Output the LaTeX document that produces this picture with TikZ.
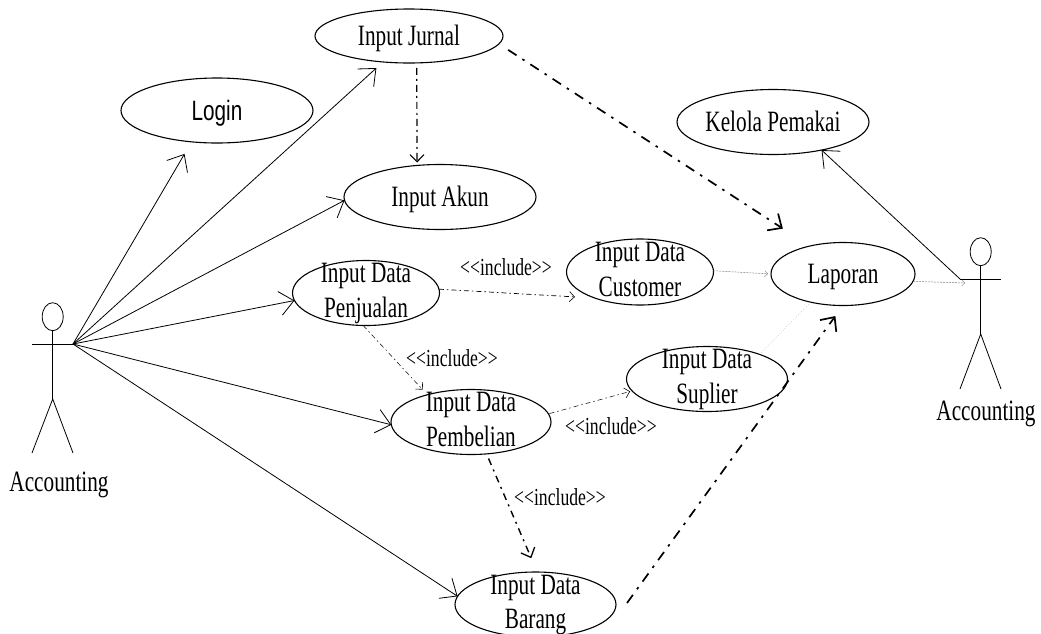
\documentclass[tikz,border=0pt]{standalone}
\usepackage{fontspec}
\setmainfont[FakeStretch=0.72,Ligatures=NoCommon]{Liberation Serif}
\newfontfamily\loginfont[FakeStretch=0.74]{Liberation Sans}
\usetikzlibrary{arrows.meta,calc,shapes.geometric}
\newcommand\twolines[2]{\raisebox{-13pt}{\smash{\begin{tabular}[c]{@{}c@{}}#1\\#2\end{tabular}}}}
\newcommand\oneline[1]{\raisebox{-9pt}[0pt][0pt]{#1}}
\newcommand\incl{{<}{<}include{>}{>}}
\tikzset{
  usecase/.style={draw,ellipse,line width=1.1pt,inner sep=0pt,outer sep=0pt,minimum width=#1,
    font=\fontsize{29.5}{34.5}\selectfont},
  labeltext/.style={inner sep=0pt,font=\fontsize{24.5}{28}\selectfont},
  actortext/.style={inner sep=0pt,font=\fontsize{29.5}{34}\selectfont},
  head/.style={draw,ellipse,line width=.8pt,inner sep=0pt,outer sep=0pt,minimum width=21pt,minimum height=28pt},
  limb/.style={line width=.8pt},
  assoc/.style={line width=.8pt,-{Straight Barb[length=14pt,width=24pt,line width=.8pt]}},
  incthick/.style={line width=1.7pt,dash pattern=on 10pt off 7pt on 2.5pt off 7pt,
    -{Straight Barb[length=11pt,width=20pt,line width=1.7pt]}},
  incmed/.style={line width=1.4pt,dash pattern=on 7pt off 5pt on 2pt off 5pt,
    -{Straight Barb[length=8pt,width=15pt,line width=1.3pt]}},
  incmid/.style={line width=1.2pt,dash pattern=on 7pt off 4pt on 2pt off 4pt,
    -{Straight Barb[length=7pt,width=14pt,line width=1.1pt]}},
  incthin/.style={line width=.7pt,dash pattern=on 5pt off 3pt on 1.5pt off 3pt,
    -{Straight Barb[length=5pt,width=10pt,line width=.6pt]}},
  incgrey/.style={line width=.5pt,gray,dash pattern=on 2pt off 1pt,
    -{Straight Barb[length=3pt,width=6pt,line width=.4pt]}},
}
\begin{document}
\begin{tikzpicture}[x=1pt,y=-1pt]
\useasboundingbox (0,0) rectangle (1041,633);
\clip (0,0) rectangle (1041,633);
% use cases
\node[usecase=188pt,minimum height=54pt] (jurnal) at (409,36) {\oneline{Input Jurnal}};
\node[usecase=192pt,minimum height=65pt] (login) at (217,110.5) {\raisebox{-10pt}[0pt][0pt]{\loginfont\fontsize{28}{32}\selectfont Login}};
\node[usecase=192pt,minimum height=65pt] (akun) at (440,197) {\oneline{Input Akun}};
\node[usecase=192pt,minimum height=65pt] (kelola) at (773,122) {\oneline{Kelola Pemakai}};
\node[usecase=147pt,minimum height=65pt] (penjualan) at (366,293) {\twolines{Input Data}{Penjualan}};
\node[usecase=147pt,minimum height=66pt] (customer) at (640,272) {\twolines{Input Data}{Customer}};
\node[usecase=144pt,minimum height=63pt] (laporan) at (843,274) {\oneline{Laporan}};
\node[usecase=160pt,minimum height=65pt] (pembelian) at (471,422) {\twolines{Input Data}{Pembelian}};
\node[usecase=161pt,minimum height=65pt] (suplier) at (707,379) {\twolines{Input Data}{Suplier}};
\node[usecase=161pt,minimum height=65pt] (barang) at (535.5,604.5) {\twolines{Input Data}{Barang}};
% actors
\node[head] (headL) at (52.7,316.7) {};
\coordinate (hipL) at (52.7,399);
\coordinate (handLL) at (32,344);
\coordinate (handL) at (73,344);
\coordinate (footLa) at (32,453);
\coordinate (footLb) at (73,453);
\draw[limb] (headL.south) -- (hipL);
\draw[limb] (handLL) -- (handL);
\draw[limb] (footLa) -- (hipL) -- (footLb);
\node[actortext] (accL) at (59,485) {Accounting};
\node[head] (headR) at (980.7,251.7) {};
\coordinate (hipR) at (980.7,334);
\coordinate (handR) at (960,279);
\coordinate (handRR) at (1001,279);
\coordinate (footRa) at (960,389);
\coordinate (footRb) at (1001,389);
\draw[limb] (headR.south) -- (hipR);
\draw[limb] (handR) -- (handRR);
\draw[limb] (footRa) -- (hipR) -- (footRb);
\node[actortext] (accR) at (986,414) {Accounting};
% associations
\draw[assoc,shorten >=14pt] (handL) -- (login.231);
\draw[assoc,shorten >=9pt] (handL) -- (jurnal.225.4);
\draw[assoc] (handL) -- (akun.182);
\draw[assoc] (handL) -- (penjualan.186);
\draw[assoc] (handL) -- (pembelian.182);
\draw[assoc] (handL) -- (barang.174);
\draw[assoc] (handR) -- (kelola.330);
% dependencies
\draw[incmid,shorten <=5pt,shorten >=3pt] (jurnal.286) -- (akun.126);
\draw[incthick,shorten <=11pt,shorten >=32pt] (jurnal.355.5) -- (laporan.140.5);
\draw[incthin,shorten >=20pt] (penjualan.3) -- (customer.210);
\draw[incgrey,shorten >=3pt] (customer.1) -- (laporan.180);
\coordinate (toActorR) at (965,283);
\draw[incgrey] (laporan.354) -- (toActorR);
\draw[incthin,line width=.5pt,shorten >=7pt] (penjualan.265) -- (pembelian.148.6);
\draw[incthin,line width=.5pt,shorten <=1pt,shorten >=2pt] (pembelian.6) -- (suplier.189);
\draw[line width=.4pt,gray,dotted] (suplier.25) -- (laporan.221);
\draw[incmed,shorten <=5pt,shorten >=15pt] (pembelian.296.6) -- (barang.87.4);
\draw[incthick,shorten >=13pt] ($(barang.east)+(11,-1.5)$) -- (laporan.270);
% labels
\node[labeltext] (inc1) at (506,267) {\incl};
\node[labeltext] (inc2) at (452,358) {\incl};
\node[labeltext] (inc3) at (611,426) {\incl};
\node[labeltext] (inc4) at (560,497) {\incl};
\end{tikzpicture}
\end{document}
